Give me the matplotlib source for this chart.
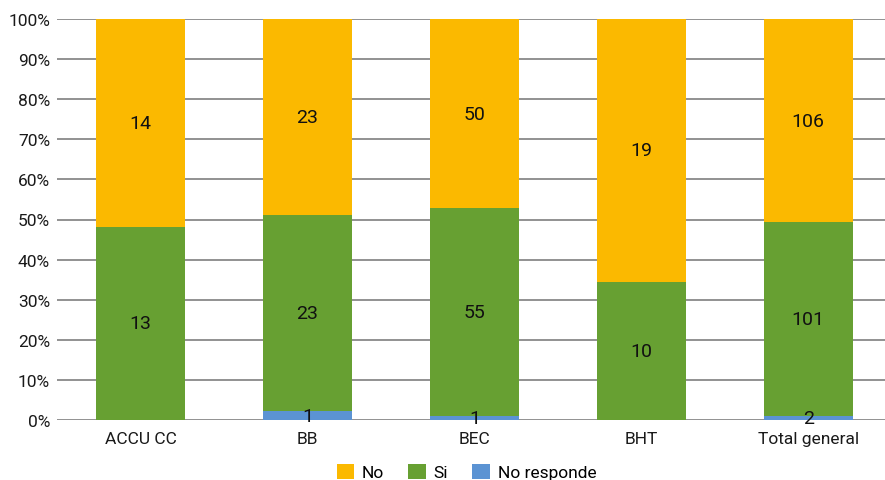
import matplotlib
matplotlib.use("Agg")
import matplotlib.pyplot as plt
import numpy as np

plt.rcParams['font.family'] = ['Roboto', 'DejaVu Sans']

categories = ["ACCU CC", "BB", "BEC", "BHT", "Total general"]
no_responde = [0, 1, 1, 0, 2]
si = [13, 23, 55, 10, 101]
no = [14, 23, 50, 19, 106]

series = [("No responde", no_responde, "#5B93D3"),
          ("Si", si, "#67A032"),
          ("No", no, "#FBB900")]

totals = np.array(no_responde) + np.array(si) + np.array(no)

fig = plt.figure(figsize=(8.85, 4.81), dpi=100)
ax = fig.add_axes([57/885, 1 - 421/481, (885 - 57)/885, (421 - 20)/481])

x = np.arange(len(categories))
bottom = np.zeros(len(categories))
handles = {}
for name, vals, color in series:
    vals = np.array(vals, dtype=float)
    share = vals / totals
    bars = ax.bar(x, share, width=0.533, bottom=bottom, color=color, zorder=2)
    handles[name] = bars
    for xi, v, b, s in zip(x, vals, bottom, share):
        if v > 0:
            ax.text(xi, b + s / 2, f"{int(v)}", ha="center", va="center",
                    fontsize=14, color="#111111", zorder=3)
    bottom += share

ax.set_xlim(-0.5, 4.46)
ax.set_ylim(0, 1)
ticks = np.arange(0, 1.01, 0.1)
ax.set_yticks(ticks)
ax.set_yticklabels([f"{int(round(t * 100))}%" for t in ticks])
ax.set_xticks(x)
ax.set_xticklabels(categories)
ax.yaxis.grid(True, color="#7F7F7F", linewidth=1.2, zorder=0)
ax.set_axisbelow(True)
for s in ax.spines.values():
    s.set_visible(False)
ax.tick_params(axis="both", length=0, labelsize=12.5, colors="#1a1a1a")
ax.tick_params(axis="y", pad=5)
ax.tick_params(axis="x", pad=8)

fig.legend([handles["No"], handles["Si"], handles["No responde"]],
           ["No", "Si", "No responde"], loc="center",
           bbox_to_anchor=(0.527, 1 - 473/481), ncol=3, frameon=False,
           fontsize=12.5, handlelength=1.0, handleheight=1.0,
           handletextpad=0.45, columnspacing=1.4)

fig.savefig("out.png", dpi=100)
